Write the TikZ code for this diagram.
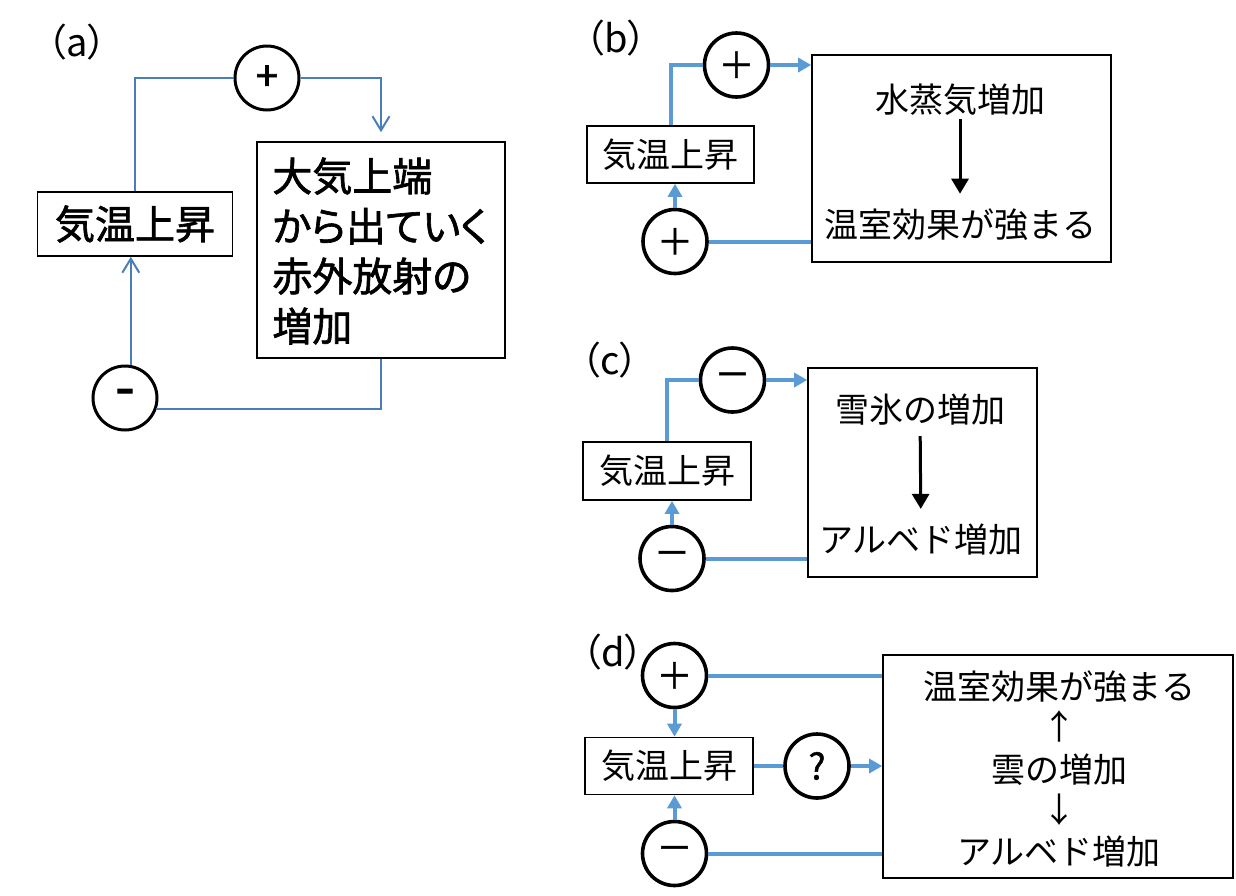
\documentclass[tikz,border=0pt]{standalone}
\usepackage{fontspec}
\setmainfont{Noto Sans CJK JP}
\newfontfamily\propjp{Noto Sans CJK JP}[RawFeature=+palt]
\newfontfamily\grasjp{Noto Sans CJK JP}[RawFeature=+palt, FakeBold=1.6]
\newfontfamily\signejp{Noto Sans CJK JP}[FakeBold=1.2]
\usetikzlibrary{arrows.meta}
\definecolor{bleuA}{HTML}{4A7EBB}
\definecolor{bleu}{HTML}{5B9BD5}

\begin{document}
\begin{tikzpicture}[x=0.5pt, y=-0.5pt,
        boite/.style={draw, line width=0.8pt, inner sep=0pt},
        texte/.style={inner sep=0pt, font=\fontsize{17pt}{20pt}\selectfont},
        titre/.style={inner sep=0pt, font=\propjp\fontsize{19pt}{20pt}\selectfont},
        signe/.style={circle, draw, line width=1.8pt, minimum size=32pt, inner sep=0pt, font=\signejp\fontsize{18pt}{20pt}\selectfont},
        lienA/.style={draw=bleuA, line width=1pt},
        flecheA/.style={lienA, -{Straight Barb[length=7pt,width=8.5pt]}},
        lien/.style={draw=bleu, line width=2pt},
        fleche/.style={lien, -{Triangle[length=6.5pt,width=7pt]}},
        causal/.style={line width=1.5pt, -{Triangle[length=7.5pt,width=8.5pt]}}
    ]
        \useasboundingbox (0,0) rectangle (1236,895);

        % Panneau (a)
        \node[titre] (titA) at (77,42) {（a）};
        \node[boite, minimum width=97.5pt, minimum height=32pt, font=\grasjp\fontsize{20pt}{24pt}\selectfont] (tA) at (135,224) {気温上昇};
        \node[boite, minimum width=124pt, minimum height=108pt] (bA) at (381,250) {};
        \node[inner sep=0pt, anchor=west, align=left, font=\grasjp\fontsize{20pt}{25pt}\selectfont] (txA) at (272,251) {大気上端\\から出ていく\\赤外放射の\\増加};
        \node[signe, line width=1.5pt, font=\grasjp\fontsize{20pt}{20pt}\selectfont] (pA) at (267,78) {+};
        \node[signe, line width=1.5pt, font=\grasjp\fontsize{28pt}{28pt}\selectfont] (mA) at (125,398) {-};

        \draw[lienA] (tA.north) |- (pA.west);
        \draw[flecheA, shorten >=4.5pt] (pA.east) -| (bA.north);
        \draw[flecheA] (mA.80) -- (mA.80 |- tA.south);
        \draw[lienA] (mA.-20) -| (bA.south);

        % Panneau (b)
        \node[titre] (titB) at (616,38) {（b）};
        \node[boite, texte, minimum width=83.5pt, minimum height=28.5pt] (tB) at (670.5,154.5) {気温上昇};
        \node[boite, minimum width=149.5pt, minimum height=103.5pt] (bigB) at (961.5,158.5) {};
        \node[texte] (vapB) at (960,100) {水蒸気増加};
        \node[texte] (serB) at (960,225) {温室効果が強まる};
        \node[signe] (pB) at (736.5,65) {＋};
        \node[signe] (mB) at (675,241.5) {＋};

        \draw[causal, shorten <=1.5pt, shorten >=7.5pt] (vapB) -- (serB);
        \draw[lien] (tB.north) |- (pB.west);
        \draw[fleche] (pB.east) -- (pB.east -| bigB.west);
        \draw[fleche] (mB.north) -- (mB.north |- tB.south);
        \draw[lien] (mB.east) -- (mB.east -| bigB.west);

        % Panneau (c)
        \node[titre] (titC) at (610,360) {（c）};
        \node[boite, texte, minimum width=84pt, minimum height=29pt] (tC) at (667,471) {気温上昇};
        \node[boite, minimum width=114.5pt, minimum height=104.5pt] (bigC) at (922.5,472.5) {};
        \node[texte] (neiC) at (920,410) {雪氷の増加};
        \node[texte] (albC) at (921,540) {アルベド増加};
        \node[signe] (mC1) at (732.5,380) {－};
        \node[signe] (mC2) at (672,558.5) {－};

        \draw[causal, shorten <=5pt, shorten >=7.5pt] (neiC) -- (albC);
        \draw[lien] (tC.north) |- (mC1.west);
        \draw[fleche] (mC1.east) -- (mC1.east -| bigC.west);
        \draw[fleche] (mC2.north) -- (mC2.north |- tC.south);
        \draw[lien] (mC2.east) -- (mC2.east -| bigC.west);

        % Panneau (d)
        \node[titre] (titD) at (613,652) {（d）};
        \node[boite, texte, minimum width=84pt, minimum height=28.5pt] (tD) at (669,766) {気温上昇};
        \node[boite, minimum width=175pt, minimum height=111.5pt] (bigD) at (1058,766.5) {};
        \node[texte] (serD) at (1059,687) {温室効果が強まる};
        \node[texte] (hautD) at (1059,726) {↑};
        \node[texte] (nuaD) at (1059.5,770) {雲の増加};
        \node[texte] (basD) at (1059,810) {↓};
        \node[texte] (albD) at (1059,852) {アルベド増加};
        \node[signe] (pD) at (674.5,675.5) {＋};
        \node[signe] (qD) at (817,766) {?};
        \node[signe] (mD) at (674.5,853.5) {－};

        \draw[fleche] (pD.south) -- (pD.south |- tD.north);
        \draw[lien] (tD.east) -- (qD.west);
        \draw[fleche] (qD.east) -- (qD.east -| bigD.west);
        \draw[fleche] (mD.north) -- (mD.north |- tD.south);
        \draw[lien] (pD.east) -- (pD.east -| bigD.west);
        \draw[lien] (mD.east) -- (mD.east -| bigD.west);
    \end{tikzpicture}
\end{document}
